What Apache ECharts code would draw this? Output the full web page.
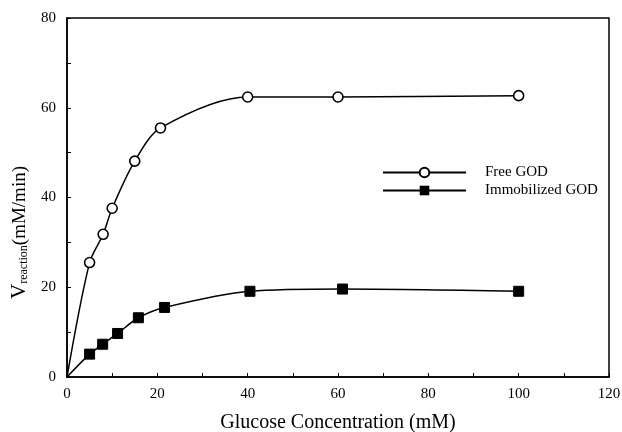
<!DOCTYPE html>
<html>
<head>
<meta charset="utf-8">
<script src="https://cdn.jsdelivr.net/npm/echarts@6/dist/echarts.min.js"></script>
<style>
  html, body { margin: 0; padding: 0; background: #fff; }
  #chart { width: 622px; height: 432px; }
</style>
</head>
<body>
<div id="chart"></div>
<script>
// data
var freeX = [0, 5, 8, 10, 15, 20.7, 40, 60, 100];
var freeY = [0, 25.5, 31.8, 37.6, 48.1, 55.5, 62.4, 62.4, 62.7];
var immoX = [0, 5, 7.9, 11.2, 15.8, 21.6, 40.5, 61, 100];
var immoY = [0, 5.1, 7.3, 9.7, 13.2, 15.5, 19.1, 19.6, 19.1];
var seriesNames = ['Free GOD', 'Immobilized GOD'];

var FONT = '"Liberation Serif", "Times New Roman", serif';

function pairs( xs, ys )
{
	var out = [];
	for( var i = 0; i < xs.length; i++ )
	{
		// origin point is drawn by the curve but has no marker
		if( i == 0 )
			out.push({ value: [xs[i], ys[i]], symbol: 'none' });
		else
			out.push([xs[i], ys[i]]);
	}
	return out;
}

var chart = echarts.init( document.getElementById('chart') );
chart.setOption({
	animation: false,
	backgroundColor: '#fff',
	grid: {
		left: 67, right: 13, top: 18, bottom: 55,
		outerBoundsMode: 'none',
		containLabel: false,
		show: true,
		borderColor: '#000',
		borderWidth: 1.5
	},
	legend: {
		orient: 'vertical',
		left: 377,
		top: 160,
		itemWidth: 83,
		itemHeight: 12,
		itemGap: 3,
		data: seriesNames,
		textStyle: { fontFamily: FONT, fontSize: 15, color: '#000', padding: [0, 0, 0, 14] }
	},
	xAxis: {
		type: 'value',
		min: 0, max: 120, interval: 20,
		name: 'Glucose Concentration (mM)',
		nameLocation: 'middle',
		nameGap: 36,
		nameTextStyle: { fontFamily: FONT, fontSize: 20, color: '#000' },
		axisLine: { lineStyle: { color: '#000', width: 1.5 } },
		axisTick: { inside: true, length: 4, lineStyle: { color: '#000' } },
		minorTick: { show: true, splitNumber: 2, length: 4, lineStyle: { color: '#000' } },
		axisLabel: { fontFamily: FONT, fontSize: 15, color: '#000', margin: 10 },
		splitLine: { show: false }
	},
	yAxis: {
		type: 'value',
		min: 0, max: 80, interval: 20,
		name: '{v|V}{s|reaction}{n|(mM/min)}',
		nameLocation: 'middle',
		nameRotate: 90,
		nameGap: 34,
		nameTextStyle: {
			color: '#000',
			padding: [0, 70, 0, 0],
			rich: {
				v: { fontFamily: FONT, fontSize: 21, color: '#000' },
				s: { fontFamily: FONT, fontSize: 12, color: '#000', padding: [8, 0, 0, 0] },
				n: { fontFamily: FONT, fontSize: 19, color: '#000' }
			}
		},
		axisLine: { lineStyle: { color: '#000', width: 1.5 } },
		axisTick: { inside: true, length: 4, lineStyle: { color: '#000' } },
		minorTick: { show: true, splitNumber: 2, length: 4, lineStyle: { color: '#000' } },
		axisLabel: { fontFamily: FONT, fontSize: 15, color: '#000', margin: 11 },
		splitLine: { show: false }
	},
	series: [
		{
			name: seriesNames[0],
			type: 'line',
			data: pairs( freeX, freeY ),
			smooth: 0.3,
			symbol: 'circle',
			symbolSize: 10,
			showAllSymbol: true,
			lineStyle: { color: '#000', width: 1.5 },
			itemStyle: { color: '#fff', borderColor: '#000', borderWidth: 1.6 }
		},
		{
			name: seriesNames[1],
			type: 'line',
			data: pairs( immoX, immoY ),
			smooth: 0.3,
			symbol: 'rect',
			symbolSize: 10,
			showAllSymbol: true,
			lineStyle: { color: '#000', width: 1.5 },
			itemStyle: { color: '#000', borderColor: '#000' }
		}
	]
});
</script>
</body>
</html>
